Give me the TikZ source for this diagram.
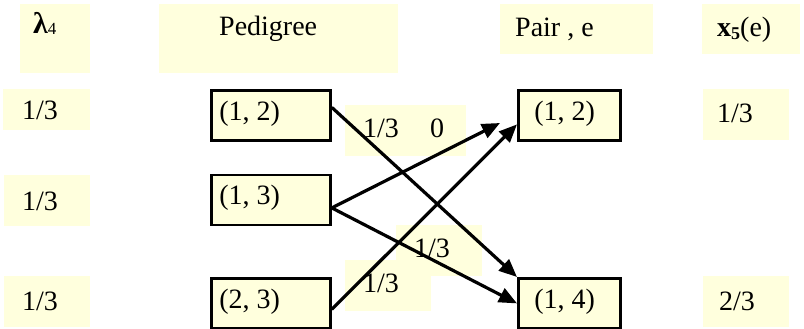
\documentclass[tikz,border=0pt]{standalone}
\usepackage{fontspec}
\setmainfont{Liberation Serif}
\usetikzlibrary{arrows.meta}

\definecolor{paleyellow}{RGB}{255,255,221}

\begin{document}
\begin{tikzpicture}[x=1pt,y=-1pt,
  every node/.style={font=\fontsize{28}{30}\selectfont},
  cell/.style={fill=paleyellow, draw=none, anchor=north west, inner sep=0pt},
  txt/.style={anchor=base west, inner sep=0pt},
  pairbox/.style={fill=paleyellow, draw=black, line width=2.8pt, anchor=north west,
    minimum height=50pt, inner ysep=0pt, text height=18pt, text depth=8pt},
  leftpair/.style={pairbox, inner xsep=8pt},
  rightpair/.style={pairbox, inner xsep=16pt},
  flow/.style={line width=3.2pt, -{Triangle[length=18pt,width=15pt]}}
]
\useasboundingbox (0,0) rectangle (804,329);

% header cells
\node[cell, minimum width=70pt, minimum height=69pt] (hlam) at (20,4) {};
\node[cell, minimum width=239pt, minimum height=69pt] (hped) at (159,4) {};
\node[cell, minimum width=153pt, minimum height=50pt] (hpair) at (500,4) {};
\node[cell, minimum width=98pt, minimum height=50pt] (hx) at (702,4) {};

\node[txt] (tlam) at (33,34) {\fontsize{30}{30}\selectfont\bfseries λ\raisebox{-1pt}{\fontsize{17}{17}\selectfont\mdseries 4}};
\node[txt] (tped) at (219,36) {Pedigree};
\node[txt] (tpair) at (515,37) {Pair , e};
\node[txt] (tx) at (717,37) {\textbf{x}\raisebox{-3pt}{\fontsize{18}{18}\selectfont\bfseries 5}(e)};

% weight column on the left
\node[cell, minimum width=87pt, minimum height=41pt] (wa) at (3,89) {};
\node[cell, minimum width=86pt, minimum height=51pt] (wb) at (4,175) {};
\node[cell, minimum width=86pt, minimum height=51pt] (wc) at (4,276) {};
\node[txt] (twa) at (22,120) {1/3};
\node[txt] (twb) at (22,210) {1/3};
\node[txt] (twc) at (22,310) {1/3};

% value column on the right
\node[cell, minimum width=86pt, minimum height=51pt] (va) at (703,89) {};
\node[cell, minimum width=86pt, minimum height=51pt] (vb) at (703,276) {};
\node[txt] (tva) at (717,123) {1/3};
\node[txt] (tvb) at (719,310) {2/3};

% edge weight labels
\node[cell, minimum width=121pt, minimum height=51pt] (la) at (345,105) {};
\node[cell, minimum width=86pt, minimum height=51pt] (lb) at (396,225) {};
\node[cell, minimum width=86pt, minimum height=51pt] (lc) at (345,260) {};
\node[txt] (tla) at (363,137) {1/3};
\node[txt] (tlz) at (430,137) {0};
\node[txt] (tlb) at (414,257) {1/3};
\node[txt] (tlc) at (363,292) {1/3};

% pedigree pairs and edge pairs
\node[leftpair] (p12) at (210,89) {\makebox[103pt][l]{(1, 2)}};
\node[leftpair] (p13) at (210,173.5) {\makebox[103pt][l]{(1, 3)}};
\node[leftpair] (p23) at (210,277) {\makebox[103pt][l]{(2, 3)}};
\node[rightpair] (e12) at (517,89) {\makebox[70pt][l]{(1, 2)}};
\node[rightpair] (e14) at (517,277) {\makebox[70pt][l]{(1, 4)}};

\coordinate (shortend) at (500,123);

% flows
\draw[flow] ([yshift=8pt]p12.east) -- (e14.north west);
\draw[flow] ([yshift=-8pt]p13.east) -- (shortend);
\draw[flow] ([yshift=-8pt]p13.east) -- (e14.west);
\draw[flow] ([yshift=-6pt]p23.east) -- ([yshift=-9pt]e12.west);
\end{tikzpicture}
\end{document}
